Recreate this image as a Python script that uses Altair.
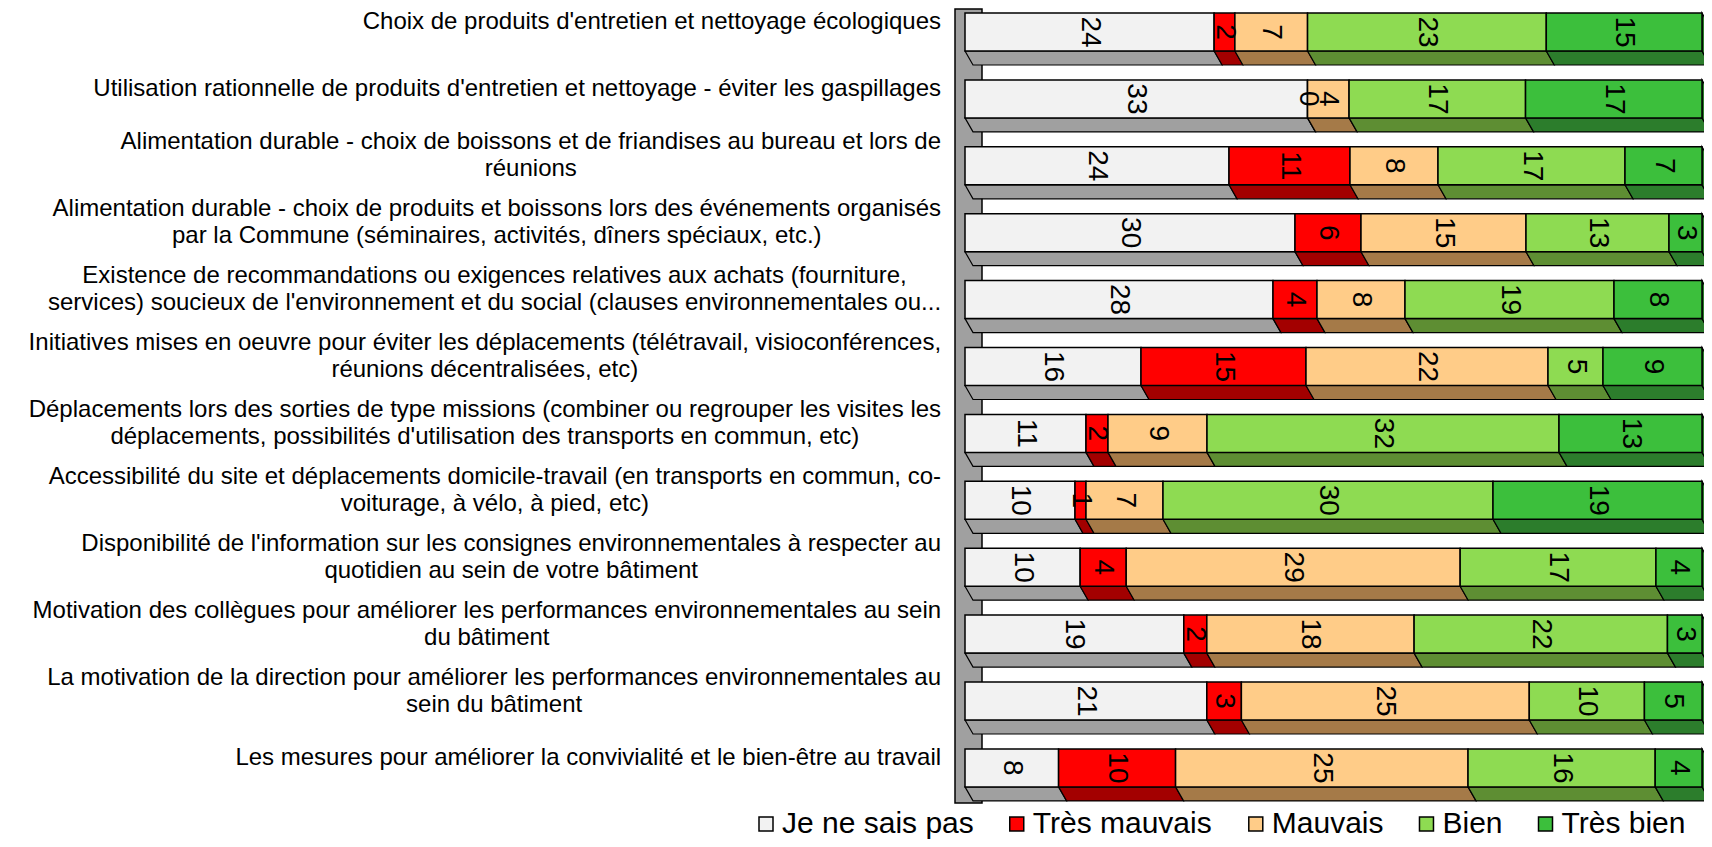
import altair as alt
import pandas as pd

# ---------------- data ----------------
question_lines = [
    ["Choix de produits d'entretien et nettoyage écologiques"],
    ["Utilisation rationnelle de produits d'entretien et nettoyage - éviter les gaspillages"],
    ["Alimentation durable - choix de boissons et de friandises au bureau et lors de",
     "réunions"],
    ["Alimentation durable - choix de produits et boissons lors des événements organisés",
     "par la Commune (séminaires, activités, dîners spéciaux, etc.)"],
    ["Existence de recommandations ou exigences relatives aux achats (fourniture,",
     "services) soucieux de l'environnement et du social (clauses environnementales ou..."],
    ["Initiatives mises en oeuvre pour éviter les déplacements (télétravail, visioconférences,",
     "réunions décentralisées, etc)"],
    ["Déplacements lors des sorties de type missions (combiner ou regrouper les visites les",
     "déplacements, possibilités d'utilisation des transports en commun, etc)"],
    ["Accessibilité du site et déplacements domicile-travail (en transports en commun, co-",
     "voiturage, à vélo, à pied, etc)"],
    ["Disponibilité de l'information sur les consignes environnementales à respecter au",
     "quotidien au sein de votre bâtiment"],
    ["Motivation des collègues pour améliorer les performances environnementales au sein",
     "du bâtiment"],
    ["La motivation de la direction pour améliorer les performances environnementales au",
     "sein du bâtiment"],
    ["Les mesures pour améliorer la convivialité et le bien-être au travail"],
]

categories = ["Je ne sais pas", "Très mauvais", "Mauvais", "Bien", "Très bien"]
je_ne_sais_pas = [24, 33, 24, 30, 28, 16, 11, 10, 10, 19, 21, 8]
tres_mauvais = [2, 0, 11, 6, 4, 15, 2, 1, 4, 2, 3, 10]
mauvais = [7, 4, 8, 15, 8, 22, 9, 7, 29, 18, 25, 25]
bien = [23, 17, 17, 13, 19, 5, 32, 30, 17, 22, 10, 16]
tres_bien = [15, 17, 7, 3, 8, 9, 13, 19, 4, 3, 5, 4]
series = [je_ne_sais_pas, tres_mauvais, mauvais, bien, tres_bien]

front_colors = ["#F2F2F2", "#FF0000", "#FFCC88", "#8EDB52", "#3CBF3C"]
depth_colors = ["#A0A0A0", "#A30000", "#A57A48", "#5E8E33", "#2C7D2C"]

# ---------------- layout constants (px) ----------------
W, H = 737, 790
STEP = 66.9      # row pitch
HALF = 19        # half height of bar front face
DEPTH = 14       # 3D depth (downwards)
SLANT = 8        # 3D depth (rightwards)
FONT = "Liberation Sans"
LABEL_SIZE = 24
LINE_H = 27
LEG_SIZE = 30

# Arial / Liberation Sans advance widths (1/1000 em)
AW = {" ": 278, "'": 191, "(": 333, ")": 333, ",": 278, "-": 333, ".": 278,
      "A": 667, "B": 667, "C": 722, "D": 722, "E": 667, "I": 278, "J": 500, "L": 556,
      "M": 833, "T": 611, "U": 722,
      "a": 556, "b": 556, "c": 500, "d": 556, "e": 556, "f": 278, "g": 556, "h": 556,
      "i": 222, "j": 222, "k": 500, "l": 222, "m": 833, "n": 556, "o": 556, "p": 556,
      "q": 556, "r": 333, "s": 500, "t": 278, "u": 556, "v": 500, "w": 722, "x": 500,
      "y": 500, "z": 500, "é": 556, "è": 556, "ê": 556, "à": 556, "â": 556, "î": 278,
      "ô": 556, "û": 556, "ç": 500}


def text_width(s, size):
    return sum(AW.get(ch, 556) for ch in s) / 1000 * size


# ---------------- tables ----------------
u = 1.0 / STEP
front_rows, depth_rows, side_rows, value_rows, label_rows = [], [], [], [], []
for i in range(len(question_lines)):
    vals = [s[i] for s in series]
    total = sum(vals)
    start = 0.0
    for k, (cat, v) in enumerate(zip(categories, vals)):
        x0 = start / total
        x1 = (start + v) / total
        start += v
        seg = f"{i}-{k}"
        front_rows.append(dict(cat=cat, x0=x0, x1=x1, y0=i - HALF * u, y1=i + HALF * u))
        depth_rows.append(dict(seg=seg, cat=cat, xa=x0, xb=x1, y=i + HALF * u))
        depth_rows.append(dict(seg=seg, cat=cat, xa=x0 + SLANT / W, xb=x1 + SLANT / W,
                               y=i + (HALF + DEPTH) * u))
        value_rows.append(dict(xm=(x0 + x1) / 2, y=i, val=str(v)))
    side_rows.append(dict(seg=str(i), cat=categories[-1], x=1.0, ya=i - HALF * u, yb=i + HALF * u))
    side_rows.append(dict(seg=str(i), cat=categories[-1], x=1.0 + SLANT / W,
                          ya=i + (DEPTH - HALF) * u, yb=i + (HALF + DEPTH) * u))
    lines = question_lines[i]
    block_w = max(text_width(l, LABEL_SIZE) for l in lines)
    label_rows.append(dict(y=i - (10 + (len(lines) - 1) * LINE_H / 2) * u,
                           lines=lines, lx=-24 - block_w / 2))

# legend entries laid out from the label text widths
legend_rows = []
lx = -206.0
for cat in categories:
    legend_rows.append(dict(cat=cat, sx=lx + 7, tx=lx + 14 + 9))
    lx += 14 + 9 + text_width(cat, LEG_SIZE) + 36

front_df = pd.DataFrame(front_rows)
depth_df = pd.DataFrame(depth_rows)
side_df = pd.DataFrame(side_rows)
value_df = pd.DataFrame(value_rows)
label_df = pd.DataFrame(label_rows)
legend_df = pd.DataFrame(legend_rows)

d0 = -HALF * u
yscale = alt.Scale(domain=[d0, d0 + H / STEP], reverse=True, nice=False, zero=False)
xscale = alt.Scale(domain=[0, 1], nice=False, zero=False)

front_color = alt.Color("cat:N", scale=alt.Scale(domain=categories, range=front_colors),
                        legend=None)
depth_color = alt.Color("cat:N", scale=alt.Scale(domain=categories, range=depth_colors),
                        legend=None)

wall = alt.Chart(pd.DataFrame({"a": [0]})).mark_rect(
    fill="#A0A0A0", stroke="black", strokeWidth=1.5
).encode(x=alt.value(-10), x2=alt.value(17), y=alt.value(-4), y2=alt.value(790))

depth = alt.Chart(depth_df).mark_area(orient="horizontal", stroke="black", strokeWidth=1.2,
                                      opacity=1).encode(
    y=alt.Y("y:Q", scale=yscale, axis=None),
    x=alt.X("xa:Q", scale=xscale, axis=None),
    x2="xb:Q",
    detail="seg:N",
    color=depth_color,
)

side = alt.Chart(side_df).mark_area(orient="vertical", stroke="black", strokeWidth=1.2,
                                    opacity=1).encode(
    x=alt.X("x:Q", scale=xscale, axis=None),
    y=alt.Y("ya:Q", scale=yscale, axis=None),
    y2="yb:Q",
    detail="seg:N",
    color=depth_color,
)

front = alt.Chart(front_df).mark_rect(stroke="black", strokeWidth=1.5, opacity=1).encode(
    x=alt.X("x0:Q", scale=xscale, axis=None),
    x2="x1:Q",
    y=alt.Y("y0:Q", scale=yscale, axis=None),
    y2="y1:Q",
    color=front_color,
)

values = alt.Chart(value_df).mark_text(
    angle=90, align="center", baseline="middle", font=FONT, fontSize=28, color="black"
).encode(
    x=alt.X("xm:Q", scale=xscale, axis=None),
    y=alt.Y("y:Q", scale=yscale, axis=None),
    text="val:N",
)

labels = alt.Chart(label_df).mark_text(
    align="center", baseline="middle", font=FONT, fontSize=LABEL_SIZE,
    lineHeight=LINE_H, color="black"
).encode(
    x=alt.X("lx:Q", scale=None, axis=None),
    y=alt.Y("y:Q", scale=yscale, axis=None),
    text="lines",
)

legend_sym = alt.Chart(legend_df).mark_square(
    size=196, filled=True, stroke="black", strokeWidth=1.5, opacity=1
).encode(
    x=alt.X("sx:Q", scale=None, axis=None),
    y=alt.value(811),
    color=front_color,
)

legend_txt = alt.Chart(legend_df).mark_text(
    align="left", baseline="alphabetic", font=FONT, fontSize=LEG_SIZE, color="black"
).encode(
    x=alt.X("tx:Q", scale=None, axis=None),
    y=alt.value(820),
    text="cat:N",
)

chart = alt.layer(wall, depth, side, front, values, labels, legend_sym, legend_txt).resolve_scale(
    color="independent"
).properties(
    width=W, height=H,
    padding={"left": 957, "top": 5, "right": 2, "bottom": 36},
    autosize=alt.AutoSizeParams(type="none"),
).configure_view(stroke=None)

chart.save("out.html", embed_options={"renderer": "svg", "actions": False})
